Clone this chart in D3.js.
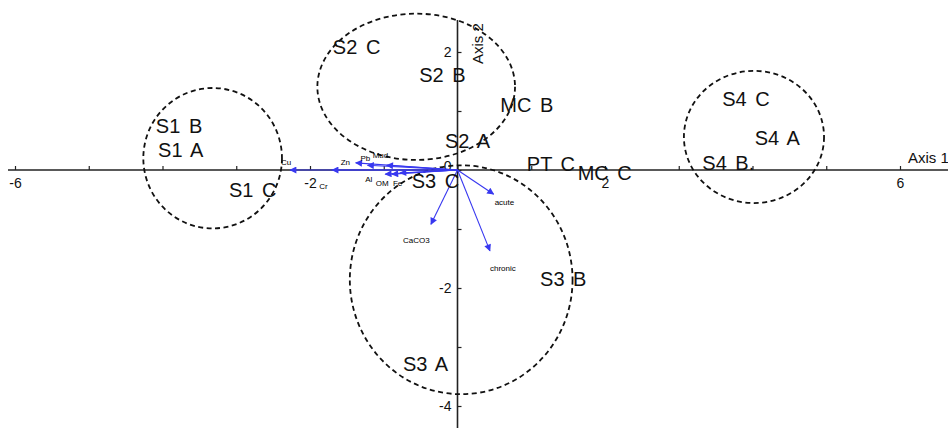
<!DOCTYPE html>
<html>
<head>
<meta charset="utf-8">
<script src="https://cdn.jsdelivr.net/npm/d3@7"></script>
<style>
  body { margin: 0; background: #fff; }
  svg { display: block; font-family: "Liberation Sans", Arial, sans-serif; }
</style>
</head>
<body>
<div id="plot"></div>
<script>
// sample scores (axis 1, axis 2)
const sampleNames = ["S1 B", "S1 A", "S1 C", "S2 C", "S2 B", "S2 A", "MC B", "PT C", "MC C",
                     "S3 C", "S3 B", "S3 A", "S4 C", "S4 A", "S4 B."];
const sampleX = [-4.09, -4.06, -3.10, -1.69, -0.52, -0.17, 0.58, 0.94, 1.63,
                 -0.62, 1.12, -0.74, 3.59, 4.03, 3.32];
const sampleY = [0.75, 0.34, -0.34, 2.08, 1.61, 0.49, 1.10, 0.10, -0.05,
                 -0.19, -1.85, -3.29, 1.20, 0.54, 0.12];

// variable loadings (arrows)
const varNames = ["Cu", "Cr", "Zn", "Pb", "Mud", "Al", "OM", "Fe", "acute", "CaCO3", "chronic"];
const varX = [-2.27, -1.70, -1.38, -1.22, -0.96, -0.98, -0.89, -0.78, 0.49, -0.36, 0.44];
const varY = [0.00, 0.00, 0.12, 0.08, 0.08, -0.07, -0.07, -0.05, -0.41, -0.92, -1.37];

// group ellipses: centre and radii in axis units
const groupCx = [-3.32, -0.56, 0.05, 4.02];
const groupCy = [0.20, 1.41, -1.86, 0.56];
const groupRx = [0.94, 1.34, 1.51, 0.95];
const groupRy = [1.19, 1.24, 1.94, 1.12];

// ticks
const xTicks = [-6, -5, -4, -3, -2, -1, 0, 1, 2, 3, 4, 5, 6];
const xTickLabels = [-6, -2, 2, 6];
const yTicks = [-4, -3, -2, -1, 0, 1, 2];
const yTickLabels = [2, 0, -2, -4];

const width = 948, height = 428;

// label offsets for arrow names (px from arrow tip)
const varLabelOffset = {
    "Cu": [-9, -8], "Cr": [-13, 16], "Zn": [-15, -1], "Pb": [-7, -7], "Mud": [-14, -10],
    "Al": [-20, 5], "OM": [-16, 9], "Fe": [-7, 10], "acute": [1, 8], "CaCO3": [-28, 16],
    "chronic": [0, 17]
};

let svg = d3.select("#plot")
    .append("svg")
    .attr("width", width)
    .attr("height", height);

let x = d3.scaleLinear().domain([-6, 6]).range([15, 900]);
let y = d3.scaleLinear().domain([-4, 2]).range([406, 52]);

// axis lines across the whole frame
svg.append("line")
    .attr("x1", 8).attr("x2", width)
    .attr("y1", y(0)).attr("y2", y(0))
    .attr("stroke", "#222").attr("stroke-width", 1.6);
svg.append("line")
    .attr("x1", x(0)).attr("x2", x(0))
    .attr("y1", 20).attr("y2", height)
    .attr("stroke", "#222").attr("stroke-width", 1.6);

// X axis (ticks point up, labels below)
let gx = svg.append("g")
    .attr("transform", "translate(0," + y(0) + ")")
    .call(d3.axisBottom(x)
        .tickValues(xTicks)
        .tickSizeInner(-4)
        .tickSizeOuter(0)
        .tickPadding(8)
        .tickFormat(function(d) { return xTickLabels.includes(d) ? String(d) : ""; }));
gx.select(".domain").remove();

// Y axis (ticks point right, labels left)
let gy = svg.append("g")
    .attr("transform", "translate(" + x(0) + ",0)")
    .call(d3.axisLeft(y)
        .tickValues(yTicks)
        .tickSizeInner(-4)
        .tickSizeOuter(0)
        .tickPadding(6)
        .tickFormat(function(d) { return yTickLabels.includes(d) ? String(d) : ""; }));
gy.select(".domain").remove();

svg.selectAll(".tick line").attr("stroke", "#222").attr("stroke-width", 1.2);
svg.selectAll(".tick text")
    .attr("font-family", "Liberation Sans, Arial, sans-serif")
    .attr("font-size", "14px")
    .attr("fill", "#111");
// the 0 label sits just above the x axis
gy.selectAll(".tick").filter(function(d) { return d === 0; })
    .select("text").attr("dy", "0.05em");

// axis titles
svg.append("text")
    .attr("x", 908).attr("y", 163)
    .attr("font-size", "15px")
    .attr("fill", "#111")
    .text("Axis 1");
svg.append("text")
    .attr("transform", "translate(" + (x(0) + 25) + ",64)rotate(-90)")
    .attr("font-size", "15px")
    .attr("fill", "#111")
    .text("Axis 2");

// dashed group ellipses
svg.selectAll("ellipse.group")
    .data(groupCx)
    .enter()
    .append("ellipse")
    .attr("class", "group")
    .attr("cx", function(d) { return x(d); })
    .attr("cy", function(d, i) { return y(groupCy[i]); })
    .attr("rx", function(d, i) { return x(groupRx[i]) - x(0); })
    .attr("ry", function(d, i) { return y(0) - y(groupRy[i]); })
    .attr("fill", "none")
    .attr("stroke", "#111")
    .attr("stroke-width", 1.8)
    .attr("stroke-dasharray", "5,3.5");

// arrowhead marker
svg.append("defs").append("marker")
    .attr("id", "head")
    .attr("viewBox", "0 0 10 10")
    .attr("refX", 9).attr("refY", 5)
    .attr("markerUnits", "userSpaceOnUse")
    .attr("markerWidth", 9).attr("markerHeight", 7)
    .attr("orient", "auto")
    .append("path")
    .attr("d", "M0,0L10,5L0,10Z")
    .attr("fill", "#3838f0");

// loading arrows
svg.selectAll("line.vec")
    .data(varNames)
    .enter()
    .append("line")
    .attr("class", "vec")
    .attr("x1", x(0)).attr("y1", y(0))
    .attr("x2", function(d, i) { return x(varX[i]); })
    .attr("y2", function(d, i) { return y(varY[i]); })
    .attr("stroke", "#3838f0")
    .attr("stroke-width", 1.1)
    .attr("marker-end", "url(#head)");

svg.selectAll("text.vec")
    .data(varNames)
    .enter()
    .append("text")
    .attr("class", "vec")
    .attr("x", function(d, i) { return x(varX[i]) + varLabelOffset[d][0]; })
    .attr("y", function(d, i) { return y(varY[i]) + varLabelOffset[d][1]; })
    .attr("dy", "0.35em")
    .attr("font-size", "8px")
    .attr("fill", "#000")
    .text(function(d) { return d; });

// sample labels
svg.selectAll("text.sample")
    .data(sampleNames)
    .enter()
    .append("text")
    .attr("class", "sample")
    .attr("x", function(d, i) { return x(sampleX[i]); })
    .attr("y", function(d, i) { return y(sampleY[i]); })
    .attr("dy", "0.35em")
    .attr("font-size", "20px")
    .attr("word-spacing", "3px")
    .attr("fill", "#111")
    .text(function(d) { return d; });
</script>
</body>
</html>
